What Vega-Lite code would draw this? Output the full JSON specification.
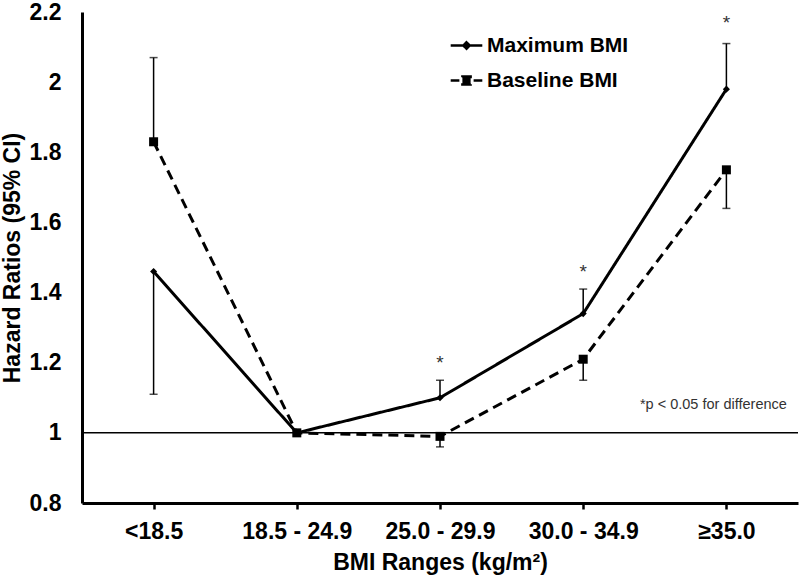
{
  "$schema": "https://vega.github.io/schema/vega-lite/v6.json",
  "width": 716,
  "height": 491,
  "autosize": {"type": "none"},
  "padding": {"left": 82, "top": 12, "right": 2, "bottom": 75},
  "background": "white",
  "config": {
    "view": {"stroke": null},
    "font": "Liberation Sans",
    "axis": {
      "domainColor": "black",
      "domainWidth": 3,
      "labelFont": "Liberation Sans",
      "labelFontSize": 23,
      "labelFontWeight": "bold",
      "labelColor": "black",
      "titleFont": "Liberation Sans",
      "titleFontSize": 23,
      "titleFontWeight": "bold",
      "titleColor": "black",
      "grid": false,
      "tickColor": "black",
      "tickWidth": 2.5
    }
  },
  "datasets": {
    "hr": [
      {"series": "Maximum BMI", "range": "<18.5", "hr": 1.46, "ci": 1.11},
      {"series": "Maximum BMI", "range": "18.5 - 24.9", "hr": 1.0, "ci": null},
      {"series": "Maximum BMI", "range": "25.0 - 29.9", "hr": 1.10, "ci": 1.15},
      {"series": "Maximum BMI", "range": "30.0 - 34.9", "hr": 1.34, "ci": 1.41},
      {"series": "Maximum BMI", "range": "≥35.0", "hr": 1.98, "ci": 2.11},
      {"series": "Baseline BMI", "range": "<18.5", "hr": 1.83, "ci": 2.07},
      {"series": "Baseline BMI", "range": "18.5 - 24.9", "hr": 1.0, "ci": null},
      {"series": "Baseline BMI", "range": "25.0 - 29.9", "hr": 0.99, "ci": 0.96},
      {"series": "Baseline BMI", "range": "30.0 - 34.9", "hr": 1.21, "ci": 1.15},
      {"series": "Baseline BMI", "range": "≥35.0", "hr": 1.75, "ci": 1.64}
    ],
    "stars": [
      {"range": "25.0 - 29.9", "pos": 1.20, "label": "*"},
      {"range": "30.0 - 34.9", "pos": 1.46, "label": "*"},
      {"range": "≥35.0", "pos": 2.17, "label": "*"}
    ],
    "note": [
      {"range": "≥35.0", "pos": 1.08, "label": "*p < 0.05 for difference"}
    ],
    "ref": [{"ref": 1}]
  },
  "layer": [
    {
      "data": {"name": "ref"},
      "mark": {"type": "rule", "color": "black", "strokeWidth": 1.5},
      "encoding": {"y": {"field": "ref", "type": "quantitative"}}
    },
    {
      "data": {"name": "hr"},
      "transform": [{"filter": "isValid(datum.ci)"}],
      "mark": {"type": "rule", "color": "black", "strokeWidth": 1.5},
      "encoding": {
        "x": {"field": "range", "type": "ordinal"},
        "y": {"field": "hr", "type": "quantitative"},
        "y2": {"field": "ci"}
      }
    },
    {
      "data": {"name": "hr"},
      "transform": [{"filter": "isValid(datum.ci)"}],
      "mark": {"type": "tick", "color": "black", "size": 8, "thickness": 1.5},
      "encoding": {
        "x": {"field": "range", "type": "ordinal"},
        "y": {"field": "ci", "type": "quantitative"}
      }
    },
    {
      "data": {"name": "hr"},
      "mark": {"type": "line", "color": "black", "strokeWidth": 3},
      "encoding": {
        "x": {
          "field": "range",
          "type": "ordinal",
          "scale": {"type": "point", "padding": 0.5, "domain": ["<18.5", "18.5 - 24.9", "25.0 - 29.9", "30.0 - 34.9", "≥35.0"]},
          "title": "BMI Ranges (kg/m²)",
          "axis": {"labelAngle": 0, "labelAlign": "center", "labelBaseline": "top", "tickSize": 6, "labelPadding": 11, "titlePadding": 8}
        },
        "y": {
          "field": "hr",
          "type": "quantitative",
          "scale": {"domain": [0.8, 2.2], "nice": false, "zero": false},
          "title": "Hazard Ratios (95% CI)",
          "axis": {"ticks": false, "tickSize": 0, "labelPadding": 21, "values": [0.8, 1, 1.2, 1.4, 1.6, 1.8, 2, 2.2], "format": "~g", "titlePadding": 5}
        },
        "strokeDash": {
          "field": "series",
          "type": "nominal",
          "scale": {"domain": ["Maximum BMI", "Baseline BMI"], "range": [[1, 0], [10, 6]]},
          "legend": {
            "title": null,
            "orient": "none",
            "legendX": 367,
            "legendY": 16,
            "padding": 0,
            "symbolSize": 1000,
            "symbolStrokeWidth": 2.5,
            "symbolStrokeColor": "black",
            "symbolFillColor": "black",
            "labelFont": "Liberation Sans",
            "labelFontSize": 21,
            "labelFontWeight": "bold",
            "labelColor": "black",
            "labelOffset": 3,
            "rowPadding": 7,
            "encode": {
              "symbols": {
                "update": {
                  "shape": {"signal": "datum.value === 'Maximum BMI' ? 'M-1,0L1,0M0,-0.2L0.2,0L0,0.2L-0.2,0Z' : 'M-1,0L-0.45,0M-0.26,-0.26L0.26,-0.26L0.26,0.26L-0.26,0.26ZM0.45,0L1,0'"},
                  "fill": {"value": "black"},
                  "stroke": {"value": "black"},
                  "strokeDash": {"value": [1, 0]},
                  "strokeWidth": {"value": 2.5},
                  "opacity": {"value": 1},
                  "strokeOpacity": {"value": 1},
                  "fillOpacity": {"value": 1}
                }
              }
            }
          }
        }
      }
    },
    {
      "data": {"name": "hr"},
      "transform": [{"filter": "datum.series === 'Maximum BMI'"}],
      "mark": {"type": "point", "filled": true, "color": "black", "opacity": 1, "shape": "diamond", "size": 50},
      "encoding": {
        "x": {"field": "range", "type": "ordinal"},
        "y": {"field": "hr", "type": "quantitative"}
      }
    },
    {
      "data": {"name": "hr"},
      "transform": [{"filter": "datum.series === 'Baseline BMI'"}],
      "mark": {"type": "point", "filled": true, "color": "black", "opacity": 1, "shape": "square", "size": 81},
      "encoding": {
        "x": {"field": "range", "type": "ordinal"},
        "y": {"field": "hr", "type": "quantitative"}
      }
    },
    {
      "data": {"name": "stars"},
      "mark": {"type": "text", "font": "Liberation Sans", "fontSize": 19, "color": "#333333", "baseline": "middle", "align": "center"},
      "encoding": {
        "x": {"field": "range", "type": "ordinal"},
        "y": {"field": "pos", "type": "quantitative"},
        "text": {"field": "label"}
      }
    },
    {
      "data": {"name": "note"},
      "mark": {"type": "text", "font": "Liberation Sans", "fontSize": 14.5, "color": "#333333", "baseline": "middle", "align": "center", "dx": -13},
      "encoding": {
        "x": {"field": "range", "type": "ordinal"},
        "y": {"field": "pos", "type": "quantitative"},
        "text": {"field": "label"}
      }
    }
  ]
}
